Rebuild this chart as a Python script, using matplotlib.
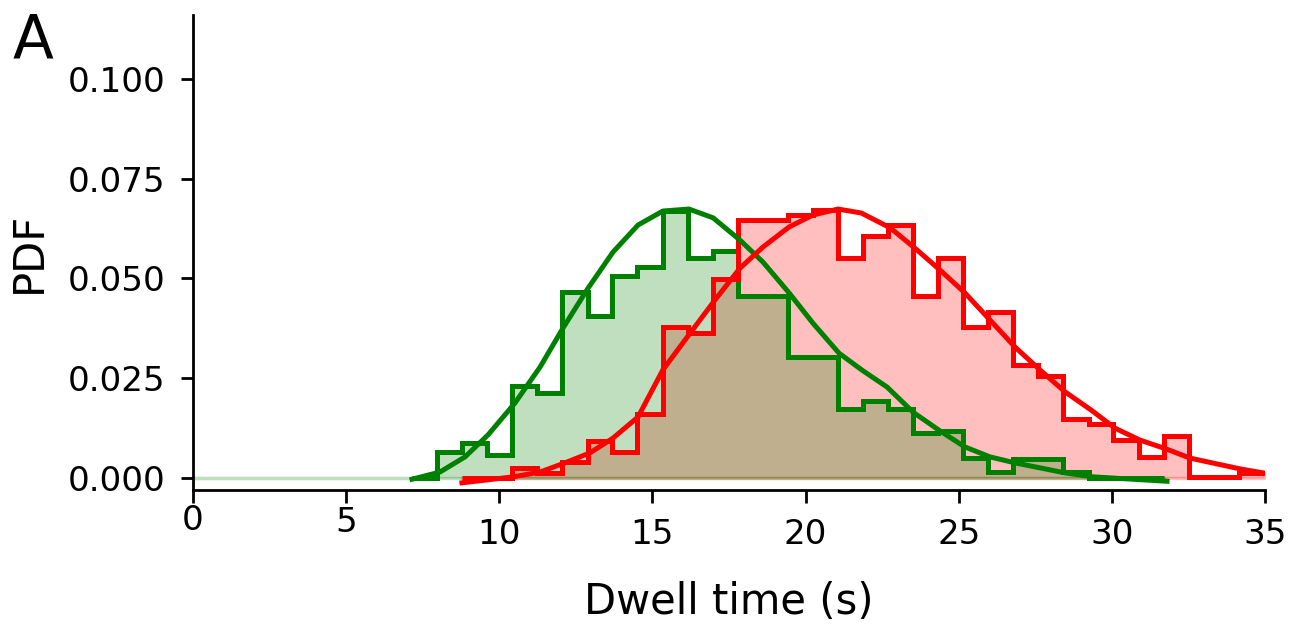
import matplotlib
matplotlib.use('Agg')
import matplotlib.pyplot as plt
import numpy as np

# shared histogram bin edges (s)
bin_edges = [7.15, 7.97, 8.79, 9.60, 10.42, 11.24, 12.06, 12.88, 13.69, 14.51,
             15.33, 16.15, 16.97, 17.78, 18.60, 19.42, 20.24, 21.06, 21.87, 22.69,
             23.51, 24.33, 25.15, 25.96, 26.78, 27.60, 28.42, 29.24, 30.05, 30.87,
             31.69, 32.51, 33.33, 34.14, 34.96]

green_hist = [0.0, 0.0065, 0.0088, 0.0058, 0.0230, 0.0213, 0.0467, 0.0406, 0.0506, 0.0529,
              0.0669, 0.0551, 0.0569, 0.0456, 0.0456, 0.0303, 0.0303, 0.0173, 0.0193, 0.0173,
              0.0113, 0.0118, 0.0050, 0.0015, 0.0047, 0.0047, 0.0015, 0.0, 0.0, 0.0]

red_hist = [0.0, 0.0, 0.0025, 0.0013, 0.0040, 0.0093, 0.0065, 0.0160, 0.0378, 0.0363,
            0.0499, 0.0647, 0.0647, 0.0659, 0.0672, 0.0551, 0.0607, 0.0634, 0.0456, 0.0551,
            0.0378, 0.0416, 0.0283, 0.0256, 0.0148, 0.0135, 0.0095, 0.0053, 0.0105, 0.0002,
            0.0002, 0.0012]

green_fit_x = [7.15, 8.06, 8.88, 9.63, 10.51, 11.33, 12.08, 12.90, 13.71, 14.53,
               15.34, 16.19, 16.98, 17.86, 18.61, 19.46, 20.24, 21.09, 21.85, 22.66,
               23.51, 24.39, 25.20, 26.02, 26.84, 28.47, 29.38, 31.80]
green_fit_y = [-0.0003, 0.0015, 0.0053, 0.0108, 0.0188, 0.0278, 0.0376, 0.0476, 0.0566, 0.0634,
               0.0669, 0.0674, 0.0652, 0.0596, 0.0541, 0.0464, 0.0388, 0.0313, 0.0270, 0.0228,
               0.0165, 0.0118, 0.0078, 0.0053, 0.0038, 0.0013, 0.0003, -0.0008]

red_fit_x = [8.78, 10.45, 11.33, 12.14, 12.96, 13.71, 14.53, 15.34, 16.23, 17.04,
             17.86, 18.61, 19.46, 20.24, 21.06, 21.82, 22.76, 23.57, 24.39, 25.20,
             26.02, 26.84, 27.65, 28.47, 29.33, 30.10, 30.92, 31.77, 32.55, 34.18, 34.93]
red_fit_y = [-0.0012, 0.0003, 0.0015, 0.0038, 0.0063, 0.0100, 0.0153, 0.0271, 0.0363, 0.0446,
             0.0526, 0.0579, 0.0629, 0.0659, 0.0674, 0.0664, 0.0627, 0.0576, 0.0521, 0.0464,
             0.0396, 0.0328, 0.0271, 0.0216, 0.0170, 0.0125, 0.0095, 0.0073, 0.0050, 0.0023,
             0.0013]

xticks = [0, 5, 10, 15, 20, 25, 30, 35]
yticks = [0.0, 0.025, 0.05, 0.075, 0.1]

green = '#008000'
red = '#ff0000'

fig = plt.figure(figsize=(6.49, 3.14), dpi=200)
ax = fig.add_axes([0.1487, 0.2197, 0.8259, 0.7563])

g_edges = bin_edges[:len(green_hist) + 1]
r_edges = bin_edges[2:2 + len(red_hist) + 1]

# filled areas (red under green)
rx = list(r_edges)
ry = list(red_hist) + [red_hist[-1]]
ax.fill_between(rx, ry, step='post', color=red, alpha=0.25, lw=1.2)
gx = [0.0] + list(g_edges)
gy = [0.0] + list(green_hist) + [green_hist[-1]]
ax.fill_between(gx, gy, step='post', color=green, alpha=0.25, lw=1.2)

# step outlines
ax.stairs(green_hist, g_edges, color=green, lw=1.8, baseline=None)
ax.stairs(red_hist, r_edges, color=red, lw=1.8, baseline=None)

# fitted curves
ax.plot(green_fit_x, green_fit_y, color=green, lw=1.8)
ax.plot(red_fit_x, red_fit_y, color=red, lw=1.8)

ax.set_xlim(0, 35)
ax.set_ylim(-0.003, 0.116)
ax.set_xticks(xticks)
ax.set_xticklabels([str(t) for t in xticks])
ax.set_yticks(yticks)
ax.set_yticklabels(['%.3f' % t for t in yticks])

ax.spines['top'].set_visible(False)
ax.spines['right'].set_visible(False)
ax.spines['left'].set_linewidth(1.0)
ax.spines['bottom'].set_linewidth(1.0)
ax.tick_params(axis='both', labelsize=12.3, length=4.5, width=1.0, pad=5.4)

# first two x labels sit higher
xt = ax.xaxis.get_major_ticks()
xt[0].set_pad(0.4)
xt[1].set_pad(1.2)

ax.set_xlabel('Dwell time (s)', fontsize=15, labelpad=11)
ax.set_ylabel('PDF', fontsize=15, labelpad=6.5)

fig.text(13 / 1298, 1 - 57 / 628, 'A', fontsize=21.5, va='baseline', ha='left')

fig.savefig('out.png', dpi=200)
